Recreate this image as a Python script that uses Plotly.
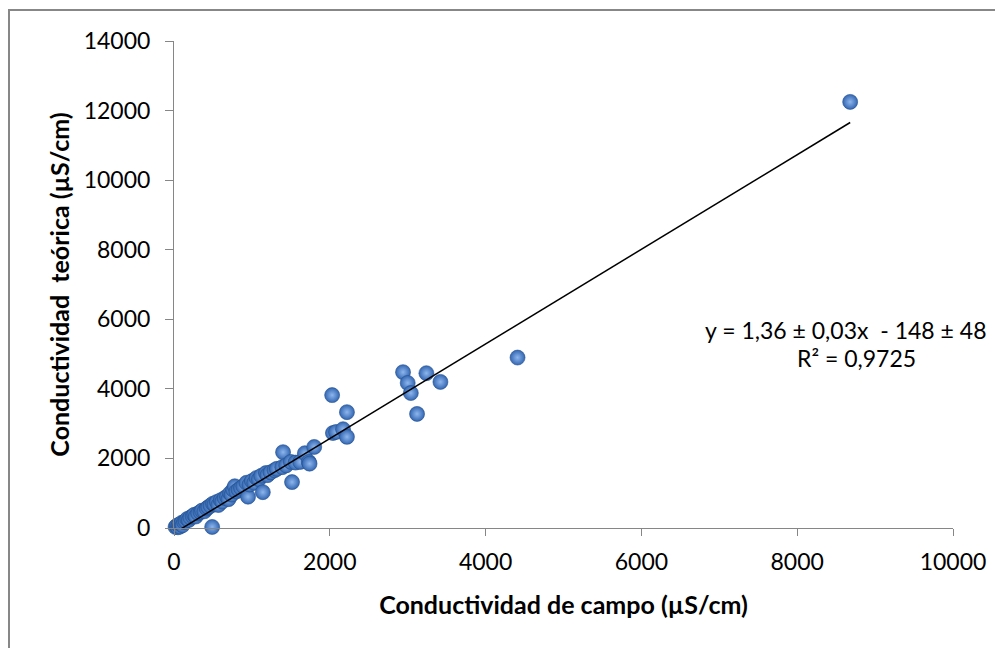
import plotly.graph_objects as go

# Field conductivity (µS/cm) vs theoretical conductivity (µS/cm)
campo = [20, 35, 50, 60, 75, 90, 100, 110, 130, 150, 170, 190, 210, 240, 260, 280,
         310, 340, 360, 390, 420, 440, 470, 490, 500, 520, 550, 570, 600, 620, 650, 680,
         700, 720, 740, 760, 780, 800,
         830, 860, 890, 930, 950, 970, 1000, 1030, 1060, 1090, 1120, 1140, 1180, 1200,
         1240, 1290, 1320,
         1390, 1400, 1440, 1500, 1515, 1560, 1620, 1680, 1730, 1740, 1800,
         2030, 2040, 2080, 2170, 2220, 2220,
         2940, 3000, 3040, 3120, 3240, 3420,
         4410, 8680]
teorica = [30, 60, 20, 90, 40, 110, 150, 80, 170, 200, 260, 230, 300, 340, 380, 330,
           420, 460, 500, 480, 560, 600, 640, 30, 700, 680, 750, 660, 800, 760, 860, 900,
           830, 1000, 960, 1100, 1200, 1050,
           1100, 1150, 1200, 1300, 900, 1250, 1350, 1300, 1440, 1400, 1500, 1030, 1580, 1520,
           1600, 1660, 1700,
           1750, 2180, 1800, 1900, 1320, 1880, 1900, 2150, 1900, 1850, 2330,
           3820, 2730, 2760, 2840, 3330, 2620,
           4480, 4170, 3880, 3280, 4450, 4200,
           4900, 12250]

slope = 1.36
intercept = -148
eq_text = "y = 1,36 ± 0,03x  - 148 ± 48"
r2_text = "R² = 0,9725"

x_ticks = [0, 2000, 4000, 6000, 8000, 10000]
y_ticks = [0, 2000, 4000, 6000, 8000, 10000, 12000, 14000]

FONT = "Lato, 'Open Sans', sans-serif"

x_line = [min(campo), max(campo)]
y_line = [slope * v + intercept for v in x_line]

fig = go.Figure()
fig.add_trace(go.Scatter(
    x=campo, y=teorica, mode="markers", cliponaxis=False,
    marker=dict(size=15, color="#3366B2",
                gradient=dict(type="radial", color="#8DB6EC"),
                line=dict(color="#24508E", width=0.6)),
    showlegend=False))
fig.add_trace(go.Scatter(
    x=x_line, y=y_line, mode="lines",
    line=dict(color="black", width=1.5), showlegend=False))

# page body has an 8px offset
OFF = 8
W, H = 1003 - OFF, 648 - OFF
L, R, T, B = 174 - OFF, 50, 41 - OFF, 120
pw, ph = W - L - R, H - T - B

def px2paper_x(px):
    return (px - OFF - L) / pw

def px2paper_y(py):
    return (H - B - (py - OFF)) / ph

fig.update_layout(
    width=W, height=H,
    margin=dict(l=L, r=R, t=T, b=B, autoexpand=False),
    paper_bgcolor="white", plot_bgcolor="white",
    font=dict(family=FONT, size=22, color="black"),
    xaxis=dict(range=[0, 10000], tickvals=x_ticks, ticktext=[str(v) for v in x_ticks],
               showgrid=False, zeroline=False,
               showline=True, linecolor="#868686", linewidth=1,
               ticks="outside", ticklen=7, tickcolor="#868686",
               ticklabelstandoff=6,
               tickfont=dict(size=23, family=FONT),
               title=dict(text="<b>Conductividad de campo (µS/cm)</b>",
                          font=dict(size=25, family=FONT), standoff=22)),
    yaxis=dict(range=[0, 14000], tickvals=y_ticks, ticktext=[str(v) for v in y_ticks],
               showgrid=False, zeroline=False,
               showline=True, linecolor="#868686", linewidth=1,
               ticks="outside", ticklen=8, tickcolor="#868686",
               ticklabelstandoff=10,
               tickfont=dict(size=23, family=FONT),
               title=dict(text="<b>Conductividad  teórica (µS/cm)</b>",
                          font=dict(size=25, family=FONT), standoff=6)),
    annotations=[
        dict(text=eq_text, xref="paper", yref="paper",
             x=px2paper_x(845), y=px2paper_y(330), showarrow=False,
             xanchor="center", yanchor="middle", font=dict(size=23, family=FONT)),
        dict(text=r2_text, xref="paper", yref="paper",
             x=px2paper_x(856), y=px2paper_y(358), showarrow=False,
             xanchor="center", yanchor="middle", font=dict(size=23, family=FONT)),
    ],
    shapes=[dict(type="rect", xref="paper", yref="paper",
                 x0=px2paper_x(9), x1=1.2, y0=-0.4, y1=px2paper_y(10),
                 line=dict(color="#878787", width=2), layer="below")],
)

fig.write_html("out.html")
